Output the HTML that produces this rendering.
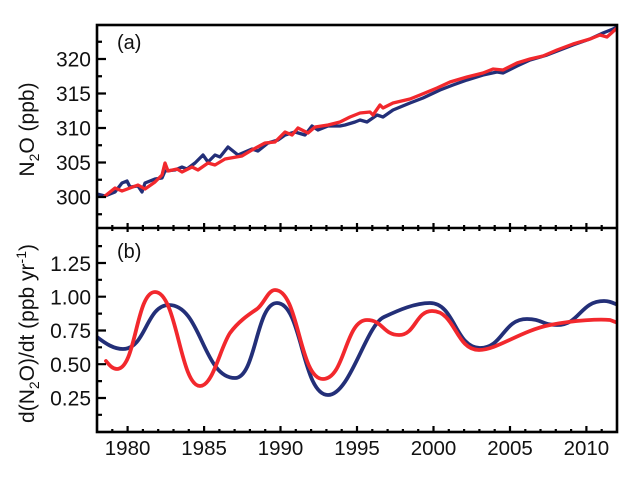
<!DOCTYPE html>
<html>
<head>
<meta charset="utf-8">
<style>
html,body{margin:0;padding:0;background:#fff;}
svg{display:block;}
text{font-family:"Liberation Sans",Arial,sans-serif;fill:#111;}
</style>
</head>
<body>
<svg width="637" height="480" viewBox="0 0 637 480" xmlns="http://www.w3.org/2000/svg">
<defs>
<clipPath id="ca"><rect x="97" y="25" width="520" height="203"/></clipPath>
<clipPath id="cb"><rect x="97" y="228" width="520" height="204"/></clipPath>
</defs>

<!-- top panel data -->
<g clip-path="url(#ca)" fill="none" stroke-width="3.3" stroke-linejoin="round" stroke-linecap="round">
<polyline stroke="#232f78" points="97,194 105,196 115,192 122,183 127,181 130,187 138,186 142,192 145,183 155,179 162,178 165,171 175,170 182,167 187,169 195,163 203,155 208,162 215,155 220,157 228,147 238,155 252,149 258,151 268,143 278,140 285,135 295,132 305,135 312,126 318,130 328,126 340,126 345,125 355,122 360,120 367,122 377,115 383,117 393,110 410,103 423,98 440,90 453,85 467,80 483,75 497,72 503,73 517,66 530,60 547,55 560,50 573,45 590,39 603,33 613,29 617,27"/>
<polyline stroke="#f2282d" points="105,196 115,188 122,191 138,185 145,189 155,182 162,175 165,163 168,171 177,169 182,172 192,167 198,170 208,163 215,165 225,159 242,156 252,150 265,143 275,142 285,132 292,135 298,128 308,133 315,127 328,125 340,122 350,117 360,113 370,112 373,115 380,105 383,108 393,103 410,99 420,95 437,88 450,82 467,77 483,73 493,69 503,70 517,63 530,59 543,56 557,50 573,44 590,39 600,35 607,37 617,28"/>
</g>

<!-- bottom panel data -->
<g clip-path="url(#cb)" fill="none" stroke-width="3.8" stroke-linejoin="round" stroke-linecap="round">
<path stroke="#232f78" d="M97,337 C106,344 114,349 123,349 C146,349 146,305 169,305 C201,305 203,378 235,378 C256,378 256,303 277,303 C302,303 302,395 328,395 C350,395 366,325 384,317 C399,310 415,303 430,303 C455,303 455,348 480,348 C503,348 503,319 527,319 C542,319 542,325 557,325 C580,325 580,301 604,301 C610,301 613,303 618,305"/>
<path stroke="#f2282d" d="M106,361 C110,366 113,369 117,369 C136,369 136,292 155,292 C177,292 180,386 200,386 C213,386 220,348 230,333 C238,322 248,315 257,309 C264,304 268,290 275,290 C299,290 299,379 323,379 C345,379 345,320 367,320 C383,320 383,335 399,335 C415.5,335 415.5,311 432,311 C455.5,311 455.5,350 479,350 C497,350 520,331 550,325 C575,320 600,319 610,320 C613,321 615,322 618,323"/>
</g>

<!-- frame -->
<g fill="none" stroke="#000" stroke-width="2.6">
<rect x="97" y="25" width="520" height="407"/>
<line x1="97" y1="228" x2="617" y2="228"/>
</g>

<!-- ticks -->
<g fill="none" stroke="#000" stroke-width="2.2">
<path d="M97,197h9 M97,162.5h9 M97,128h9 M97,93.5h9 M97,59h9 M97,214.25h5 M97,179.75h5 M97,145.25h5 M97,110.75h5 M97,76.25h5 M97,41.75h5"/>
<path d="M97,398h9 M97,364.2h9 M97,330.5h9 M97,296.7h9 M97,263h9 M97,414.8h5 M97,381.1h5 M97,347.3h5 M97,313.6h5 M97,279.8h5 M97,246.1h5"/>
<path d="M112.3,225v6 M127.6,223v9 M142.9,225v6 M158.2,225v6 M173.5,225v6 M188.8,225v6 M204.1,223v9 M219.4,225v6 M234.6,225v6 M249.9,225v6 M265.2,225v6 M280.5,223v9 M295.8,225v6 M311.1,225v6 M326.4,225v6 M341.7,225v6 M357,223v9 M372.3,225v6 M387.6,225v6 M402.9,225v6 M418.2,225v6 M433.5,223v9 M448.8,225v6 M464.1,225v6 M479.4,225v6 M494.7,225v6 M510,223v9 M525.3,225v6 M540.5,225v6 M555.8,225v6 M571.1,225v6 M586.4,223v9 M601.7,225v6"/>
<path d="M112.3,432v-3 M127.6,432v-6 M142.9,432v-3 M158.2,432v-3 M173.5,432v-3 M188.8,432v-3 M204.1,432v-6 M219.4,432v-3 M234.6,432v-3 M249.9,432v-3 M265.2,432v-3 M280.5,432v-6 M295.8,432v-3 M311.1,432v-3 M326.4,432v-3 M341.7,432v-3 M357,432v-6 M372.3,432v-3 M387.6,432v-3 M402.9,432v-3 M418.2,432v-3 M433.5,432v-6 M448.8,432v-3 M464.1,432v-3 M479.4,432v-3 M494.7,432v-3 M510,432v-6 M525.3,432v-3 M540.5,432v-3 M555.8,432v-3 M571.1,432v-3 M586.4,432v-6 M601.7,432v-3"/>
</g>

<g font-size="21" text-anchor="end">
<text x="91" y="66.5">320</text>
<text x="91" y="101">315</text>
<text x="91" y="135.5">310</text>
<text x="91" y="170">305</text>
<text x="91" y="204.5">300</text>
</g>
<g font-size="21" text-anchor="end">
<text x="91" y="271">1.25</text>
<text x="91" y="304.5">1.00</text>
<text x="91" y="338">0.75</text>
<text x="91" y="372">0.50</text>
<text x="91" y="405.5">0.25</text>
</g>
<g font-size="20.5" text-anchor="middle">
<text x="127.6" y="455">1980</text>
<text x="204.1" y="455">1985</text>
<text x="280.5" y="455">1990</text>
<text x="357" y="455">1995</text>
<text x="433.5" y="455">2000</text>
<text x="510" y="455">2005</text>
<text x="586.4" y="455">2010</text>
</g>

<text x="117" y="49" font-size="20">(a)</text>
<text x="117" y="258" font-size="20">(b)</text>

<text transform="translate(34,129.5) rotate(-90)" font-size="21" text-anchor="middle">N<tspan font-size="14" dy="5">2</tspan><tspan dy="-5">O (ppb)</tspan></text>
<text transform="translate(34,333.5) rotate(-90)" font-size="21" text-anchor="middle">d(N<tspan font-size="14" dy="5">2</tspan><tspan dy="-5">O)/dt (ppb yr</tspan><tspan font-size="14" dy="-8">-1</tspan><tspan dy="8">)</tspan></text>
</svg>
</body>
</html>
